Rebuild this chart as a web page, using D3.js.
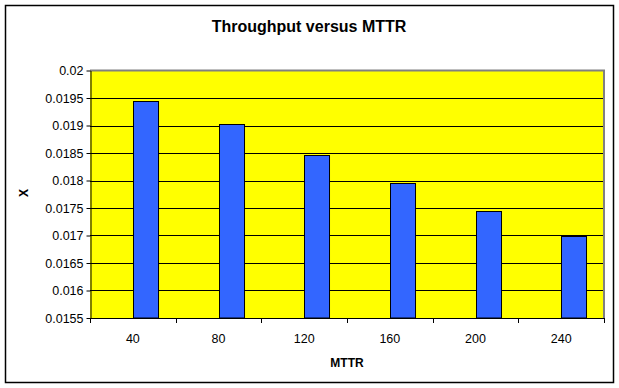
<!DOCTYPE html>
<html>
<head>
<meta charset="utf-8">
<script src="https://cdn.jsdelivr.net/npm/d3@7"></script>
<style>
  body { margin: 0; background: #fff; }
  svg text { font-family: Arial, "Liberation Sans", sans-serif; }
</style>
</head>
<body>
<svg id="chart" width="619" height="388"></svg>
<script>
// data
var mttr = [40, 80, 120, 160, 200, 240];
var throughput = [0.01945, 0.01903, 0.01847, 0.01795, 0.01745, 0.01699];
var yTicks = [0.0155, 0.016, 0.0165, 0.017, 0.0175, 0.018, 0.0185, 0.019, 0.0195, 0.02];
var yTickLabels = ["0.0155", "0.016", "0.0165", "0.017", "0.0175", "0.018", "0.0185", "0.019", "0.0195", "0.02"];

var svg = d3.select("#chart");

// plot area edges
var pLeft = 90, pRight = 604, pTop = 70.5, pBottom = 318;

var x = d3.scaleBand().domain(mttr).range([pLeft, pRight]).padding(0);
var y = d3.scaleLinear().domain([0.0155, 0.02]).range([pBottom, pTop]);

// outer frame
svg.append("rect")
    .attr("x", 5.5).attr("y", 5.5)
    .attr("width", 608).attr("height", 377)
    .attr("fill", "white")
    .attr("stroke", "black")
    .attr("stroke-width", 1.5);

// title
svg.append("text")
    .attr("x", 309).attr("y", 32)
    .attr("text-anchor", "middle")
    .attr("font-size", "16px")
    .attr("font-weight", "bold")
    .text("Throughput versus MTTR");

// plot background
svg.append("rect")
    .attr("x", pLeft).attr("y", pTop)
    .attr("width", pRight - pLeft).attr("height", pBottom - pTop)
    .attr("fill", "#FFFF00");

// gridlines
svg.append("g").selectAll("line")
    .data(yTicks.slice(1, -1))
    .enter().append("line")
    .attr("x1", pLeft).attr("x2", pRight)
    .attr("y1", d => Math.round(y(d)) + 0.5)
    .attr("y2", d => Math.round(y(d)) + 0.5)
    .attr("stroke", "black")
    .attr("stroke-width", 1);

// plot border, grey on top and right
svg.append("path")
    .attr("d", "M" + pLeft + "," + pTop + "H" + pRight + "V" + pBottom)
    .attr("fill", "none")
    .attr("stroke", "#808080")
    .attr("stroke-width", 2);

// bars sit right of the category centre
var barW = x.bandwidth() * 0.292;
svg.append("g").selectAll("rect")
    .data(throughput)
    .enter().append("rect")
    .attr("x", (d, i) => Math.round(x(mttr[i]) + x.bandwidth() / 2) + 0.5)
    .attr("y", d => Math.round(y(d)) + 0.5)
    .attr("width", barW)
    .attr("height", d => pBottom - Math.round(y(d)) - 0.5)
    .attr("fill", "#3366FF")
    .attr("stroke", "black")
    .attr("stroke-width", 1);

// y axis
var yAxis = d3.axisLeft(y)
    .tickValues(yTicks)
    .tickFormat((d, i) => yTickLabels[i])
    .tickSize(4)
    .tickPadding(3)
    .tickSizeOuter(0);
var gy = svg.append("g")
    .attr("transform", "translate(" + (pLeft + 0.5) + ",0)")
    .call(yAxis);
gy.selectAll("text").attr("font-size", "12.5px").attr("fill", "black")
    .attr("font-family", "Arial, 'Liberation Sans', sans-serif");
gy.selectAll("line, path").attr("stroke", "black");

// x axis: ticks between categories, labels at centres
var xTickPos = mttr.map(d => x(d)).concat([pRight]);
svg.append("line")
    .attr("x1", pLeft).attr("x2", pRight)
    .attr("y1", pBottom + 0.5).attr("y2", pBottom + 0.5)
    .attr("stroke", "black");
svg.append("g").selectAll("line")
    .data(xTickPos)
    .enter().append("line")
    .attr("x1", d => Math.round(d) + 0.5).attr("x2", d => Math.round(d) + 0.5)
    .attr("y1", pBottom).attr("y2", pBottom + 5)
    .attr("stroke", "black");
svg.append("g").selectAll("text")
    .data(mttr)
    .enter().append("text")
    .attr("x", d => x(d) + x.bandwidth() / 2)
    .attr("y", 343)
    .attr("text-anchor", "middle")
    .attr("font-size", "12.5px")
    .text(d => d);

// axis titles
svg.append("text")
    .attr("x", (pLeft + pRight) / 2).attr("y", 367)
    .attr("text-anchor", "middle")
    .attr("font-size", "12px")
    .attr("font-weight", "bold")
    .text("MTTR");

svg.append("text")
    .attr("transform", "translate(28,193) rotate(-90)")
    .attr("text-anchor", "middle")
    .attr("font-size", "12px")
    .attr("font-weight", "bold")
    .text("X");
</script>
</body>
</html>
